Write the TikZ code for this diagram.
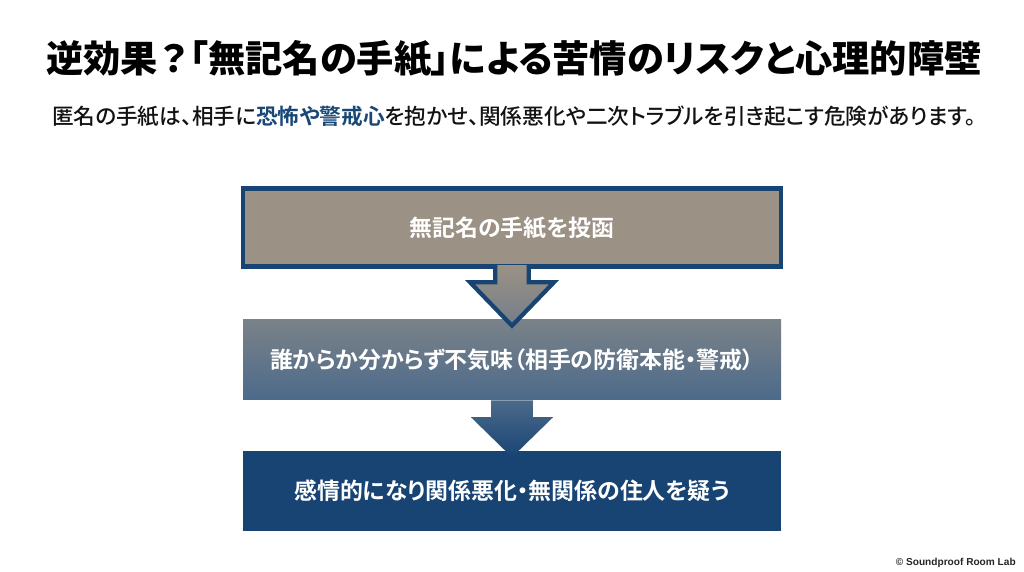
\documentclass[tikz,border=0pt]{standalone}
\usepackage{fontspec}
\usepackage{xcolor}
\setmainfont[RawFeature=+palt, BoldFont={Noto Sans CJK JP Bold}]{Noto Sans CJK JP Medium}
\newfontfamily\heavyfont[RawFeature=+palt]{Noto Sans CJK JP Black}
\newfontfamily\latinfont{Liberation Sans}
\definecolor{navyblue}{RGB}{24, 68, 116}
\definecolor{taupefill}{RGB}{155, 145, 133}
\definecolor{slatetop}{RGB}{122, 130, 137}
\definecolor{slatebottom}{RGB}{76, 106, 138}
\definecolor{accentblue}{RGB}{26, 72, 118}
\definecolor{inktext}{RGB}{18, 18, 18}
\usetikzlibrary{calc}

\begin{document}
\begin{tikzpicture}[
    title/.style={font=\heavyfont\fontsize{26.5}{28}\selectfont, text=black, inner sep=0pt},
    lead/.style={font=\fontsize{15.4}{18}\selectfont, text=inktext, inner sep=0pt},
    flowbox/.style={rectangle, minimum width=13.45cm, minimum height=2cm, inner sep=0pt, text=white, font=\fontsize{16.3}{20}\selectfont\bfseries},
    credit/.style={font=\latinfont\fontsize{7.2}{9}\selectfont\bfseries, text=black!85, inner sep=0pt}
]
    \useasboundingbox (0, 0) rectangle (25.6, 14.3);

    % Heading
    \node[title] (heading) at (12.85, 12.83) {逆効果\hspace{2pt}？\hspace{2pt}「無記名の手紙」による苦情のリスクと心理的障壁};
    \node[lead] (intro) at (12.85, 11.38) {匿名の手紙は、相手に\textbf{\textcolor{accentblue}{恐怖や警戒心}}を抱かせ、関係悪化や二次トラブルを引き起こす危険があります。};

    % Boxes
    \node[flowbox, fill=taupefill, draw=navyblue, line width=3.5pt, minimum width=13.45cm, minimum height=1.95cm] (post) at (12.8, 8.61) {無記名の手紙を投函};
    \node[flowbox, top color=slatetop, bottom color=slatebottom] (fear) at (12.8, 5.3) {誰からか分からず不気味（相手の防衛本能・警戒）};
    \node[flowbox, fill=navyblue] (doubt) at (12.8, 2.03) {感情的になり関係悪化・無関係の住人を疑う};

    % Arrows
    \draw[navyblue, line width=3pt, line join=miter, top color=taupefill, bottom color=slatetop!85!slatebottom]
        ($(post.south)+(-0.42, 0.1)$) -- ($(post.south)+(-0.42, -0.33)$) -- ($(post.south)+(-1.05, -0.33)$)
        -- ($(fear.north)+(0, -0.15)$)
        -- ($(post.south)+(1.05, -0.33)$) -- ($(post.south)+(0.42, -0.33)$) -- ($(post.south)+(0.42, 0.1)$);
    \path[top color=slatebottom, bottom color=navyblue]
        ($(fear.south)+(-0.52, 0)$) -- ($(fear.south)+(-0.52, -0.42)$) -- ($(fear.south)+(-1.03, -0.42)$)
        -- ($(doubt.north)+(0, -0.17)$)
        -- ($(fear.south)+(1.03, -0.42)$) -- ($(fear.south)+(0.52, -0.42)$) -- ($(fear.south)+(0.52, 0)$) -- cycle;

    % Credit
    \node[credit, anchor=east] (mark) at (25.4, 0.22) {© Soundproof Room Lab};
\end{tikzpicture}
\end{document}
